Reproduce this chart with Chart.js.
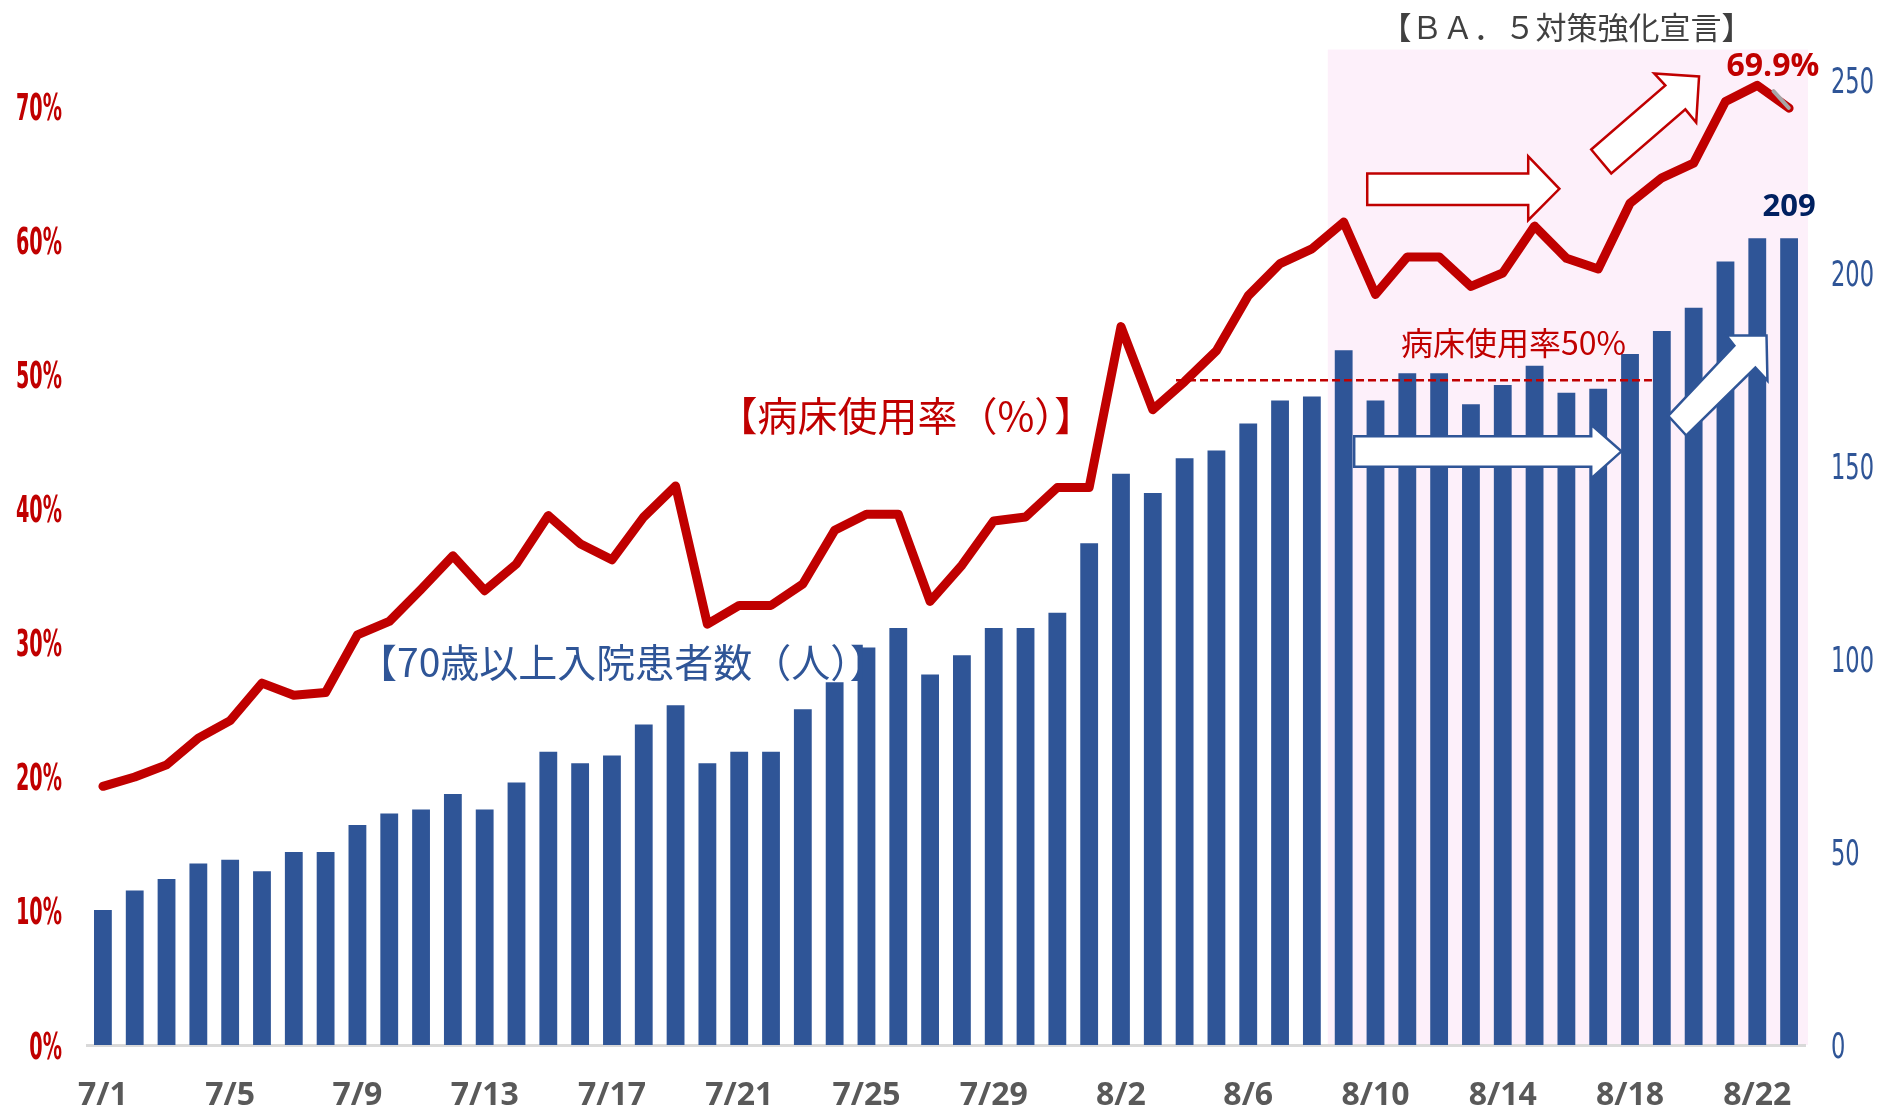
<!DOCTYPE html>
<html>
<head>
<meta charset="utf-8">
<script src="https://cdn.jsdelivr.net/npm/chart.js@4.4.1/dist/chart.umd.min.js"></script>
<style>
  html, body { margin: 0; padding: 0; background: #fff; }
</style>
</head>
<body>
<canvas id="bedChart" width="1883" height="1111"></canvas>
<script>
// 日付（7/1〜8/23）
const days = ['7/1','7/2','7/3','7/4','7/5','7/6','7/7','7/8','7/9','7/10',
  '7/11','7/12','7/13','7/14','7/15','7/16','7/17','7/18','7/19','7/20',
  '7/21','7/22','7/23','7/24','7/25','7/26','7/27','7/28','7/29','7/30','7/31',
  '8/1','8/2','8/3','8/4','8/5','8/6','8/7','8/8','8/9','8/10',
  '8/11','8/12','8/13','8/14','8/15','8/16','8/17','8/18','8/19','8/20',
  '8/21','8/22','8/23'];

// 病床使用率（%）
const bedRate = [19.3, 20.0, 20.9, 22.9, 24.2, 27.0, 26.1, 26.3, 30.6, 31.6,
  34.0, 36.5, 33.9, 35.9, 39.5, 37.4, 36.2, 39.4, 41.7, 31.4,
  32.8, 32.8, 34.4, 38.4, 39.6, 39.6, 33.1, 35.8, 39.1, 39.4, 41.6,
  41.6, 53.6, 47.4, 49.5, 51.8, 55.9, 58.3, 59.4, 61.4, 56.0,
  58.8, 58.8, 56.6, 57.6, 61.1, 58.7, 57.9, 62.8, 64.7, 65.8,
  70.4, 71.6, 69.9];

// 70歳以上入院患者数（人）
const patients = [35, 40, 43, 47, 48, 45, 50, 50, 57, 60,
  61, 65, 61, 68, 76, 73, 75, 83, 88, 73,
  76, 76, 87, 94, 103, 108, 96, 101, 108, 108, 112,
  130, 148, 143, 152, 154, 161, 167, 168, 180, 167,
  174, 174, 166, 171, 176, 169, 170, 179, 185, 191,
  203, 209, 209];

// 目盛り
const rateTicks = [0, 10, 20, 30, 40, 50, 60, 70];
const countTicks = [0, 50, 100, 150, 200, 250];
const dayTickEvery = 4;

const RED = '#C00000';
const BLUE = '#2F5597';
const NAVY = '#002060';
const NARROW = "'Liberation Sans Narrow','DejaVu Sans Condensed','Roboto Condensed',sans-serif";
const JP = "'Noto Sans CJK JP',sans-serif";
const BOLD = "'Open Sans','Liberation Sans',sans-serif";

// 矢印（x: 日付の位置, y: 人数軸）
const redArrowFlat = [[39.74,225.8],[44.8,225.8],[44.8,230.2],[45.78,221.8],[44.8,213.7],[44.8,217.6],[39.74,217.6]];
const redArrowUp = [[46.78,232.0],[49.11,248.6],[48.76,251.7],[50.17,250.9],[50.08,239.0],[49.74,242.4],[47.41,225.8]];
const blueArrowFlat = [[39.33,157.7],[46.78,157.7],[46.78,160.7],[47.73,153.8],[46.78,146.8],[46.78,149.8],[39.33,149.8]];
const blueArrowUp = [[49.2,163.0],[51.28,181.2],[51.03,183.8],[52.29,183.8],[52.32,172.1],[51.94,175.5],[49.77,157.9]];

// 対策強化宣言の背景
const bandBg = {
  id: 'bandBg',
  beforeDraw(chart) {
    const {ctx, chartArea, scales: {x, y1}} = chart;
    const left = x.getPixelForValue(38.5);
    const top = y1.getPixelForValue(257.9);
    ctx.save();
    ctx.fillStyle = '#FDF0FA';
    ctx.fillRect(left, top, chartArea.right + 3 - left, chartArea.bottom - top);
    ctx.restore();
  }
};

function squeezeText(ctx, text, x, y, sx, align) {
  ctx.save();
  ctx.translate(x, y);
  ctx.scale(sx, 1);
  ctx.textAlign = align;
  ctx.fillText(text, 0, 0);
  ctx.restore();
}

// 目盛りラベル・注記
const notes = {
  id: 'notes',
  afterDraw(chart) {
    const {ctx, chartArea, scales: {x, y, y1}} = chart;
    const P = (i, v) => [x.getPixelForValue(i), y1.getPixelForValue(v)];

    ctx.save();
    ctx.textBaseline = 'alphabetic';

    // 左軸
    ctx.font = 'bold 38px ' + NARROW;
    ctx.fillStyle = RED;
    let sx = 46 / ctx.measureText('70%').width;
    rateTicks.forEach(v => {
      squeezeText(ctx, v + '%', 62, y.getPixelForValue(v) + 13.5, sx, 'right');
    });

    // 右軸
    ctx.font = '35px ' + NARROW;
    ctx.fillStyle = BLUE;
    sx = 43 / ctx.measureText('250').width;
    countTicks.forEach(v => {
      squeezeText(ctx, String(v), 1831, y1.getPixelForValue(v) + 12.5, sx, 'left');
    });

    // 日付
    ctx.font = 'bold 32px ' + BOLD;
    ctx.fillStyle = '#595959';
    ctx.textAlign = 'center';
    days.forEach((d, i) => {
      if (i % dayTickEvery === 0) ctx.fillText(d, x.getPixelForValue(i), chartArea.bottom + 59.5);
    });

    // 矢印
    const arrow = (pts, color) => {
      ctx.beginPath();
      pts.forEach((p, k) => {
        const [px, py] = P(p[0], p[1]);
        if (k === 0) ctx.moveTo(px, py); else ctx.lineTo(px, py);
      });
      ctx.closePath();
      ctx.fillStyle = '#fff';
      ctx.fill();
      ctx.lineWidth = 2.5;
      ctx.lineJoin = 'miter';
      ctx.strokeStyle = color;
      ctx.stroke();
    };
    arrow(redArrowFlat, RED);
    arrow(redArrowUp, RED);
    arrow(blueArrowFlat, BLUE);
    arrow(blueArrowUp, BLUE);

    // 50%ライン
    ctx.beginPath();
    ctx.setLineDash([8, 4]);
    ctx.lineWidth = 2.5;
    ctx.strokeStyle = RED;
    const yy = y.getPixelForValue(49.6);
    ctx.moveTo(x.getPixelForValue(33.73), yy);
    ctx.lineTo(x.getPixelForValue(48.69), yy);
    ctx.stroke();
    ctx.setLineDash([]);

    // 引き出し線
    ctx.beginPath();
    ctx.lineWidth = 4;
    ctx.lineCap = 'round';
    ctx.strokeStyle = '#A6A6A6';
    let [ax, ay] = P(52.51, 247.1);
    let [bx, by] = P(52.99, 242.8);
    ctx.moveTo(ax, ay);
    ctx.lineTo(bx, by);
    ctx.stroke();

    // 文字
    ctx.textAlign = 'center';
    ctx.textBaseline = 'middle';
    const label = (text, i, v, font, color) => {
      const [px, py] = P(i, v);
      ctx.font = font;
      ctx.fillStyle = color;
      ctx.fillText(text, px, py);
    };
    label('【ＢＡ．５対策強化宣言】', 46.0, 263.8, '31px ' + JP, '#404040');
    label('【病床使用率（%）】', 25.24, 163.0, '40px ' + JP, RED);
    label('【70歳以上入院患者数（人）】', 16.36, 99.1, '39px ' + JP, BLUE);
    label('病床使用率50%', 44.34, 182.0, '32px ' + JP, RED);

    ctx.textBaseline = 'alphabetic';
    let [tx, ty] = P(52.49, 254.1);
    ctx.font = 'bold 32px ' + BOLD;
    ctx.fillStyle = RED;
    ctx.fillText('69.9%', tx, ty + 11.4);
    [tx, ty] = P(53, 217.5);
    ctx.font = 'bold 31px ' + BOLD;
    ctx.fillStyle = NAVY;
    ctx.fillText('209', tx, ty + 11);

    ctx.restore();
  }
};

const ctxMain = document.getElementById('bedChart');
const bedChart = new Chart(ctxMain, {
  type: 'bar',
  data: {
    labels: days,
    datasets: [{
      type: 'line',
      label: '病床使用率',
      data: bedRate,
      yAxisID: 'y',
      borderColor: RED,
      borderWidth: 9,
      borderJoinStyle: 'round',
      borderCapStyle: 'round',
      pointRadius: 0,
      tension: 0,
      clip: false,
      order: 0
    }, {
      label: '70歳以上入院患者数',
      data: patients,
      yAxisID: 'y1',
      backgroundColor: BLUE,
      barPercentage: 0.56,
      categoryPercentage: 1.0,
      order: 1
    }]
  },
  options: {
    responsive: false,
    animation: false,
    layout: { padding: { top: 80, left: 0, right: 0, bottom: 0 } },
    scales: {
      x: {
        grid: { display: false },
        border: { display: true, color: '#D9D9D9', width: 3 },
        ticks: { display: false },
        afterFit(scale) { scale.height = 66; }
      },
      y: {
        position: 'left',
        min: 0,
        max: 72,
        grid: { display: false },
        border: { display: false },
        ticks: { display: false },
        afterFit(scale) { scale.width = 87; }
      },
      y1: {
        position: 'right',
        min: 0,
        max: 250,
        grid: { display: false },
        border: { display: false },
        ticks: { display: false },
        afterFit(scale) { scale.width = 78; }
      }
    },
    plugins: {
      legend: { display: false },
      tooltip: { enabled: false }
    }
  },
  plugins: [bandBg, notes]
});
</script>
</body>
</html>
